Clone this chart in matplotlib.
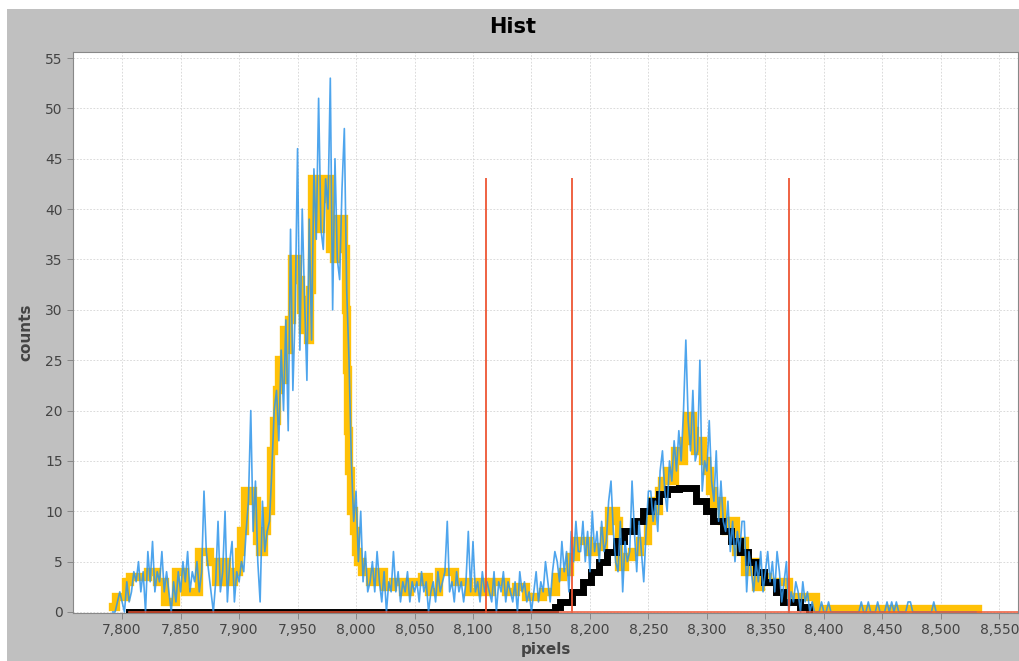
import matplotlib
matplotlib.use("Agg")
import matplotlib.pyplot as plt
from matplotlib.ticker import FuncFormatter, MultipleLocator
from matplotlib.patches import Rectangle
import numpy as np

# raw histogram, one value every 2 pixels starting at 7792
hist_start = 7792
hist_step = 2
hist_counts = [
    0, 0, 1, 2, 1, 0, 3, 1, 2, 4,          # 7792-7810
    3, 5, 2, 4, 0, 6, 3, 7, 2, 4,          # 7812-7830
    3, 6, 2, 4, 2, 0, 3, 1, 4, 2,          # 7832-7850
    5, 3, 6, 2, 4, 3, 5, 2, 4, 12,         # 7852-7870
    6, 4, 2, 0, 3, 9, 2, 4, 10, 1,         # 7872-7890
    5, 7, 1, 4, 3, 5, 4, 8, 11, 20,        # 7892-7910
    8, 13, 5, 1, 11, 6, 8, 9, 14, 20,      # 7912-7930
    22, 17, 26, 20, 29, 18, 38, 22, 30, 46,  # 7932-7950
    26, 40, 31, 23, 39, 27, 44, 37, 51, 38,  # 7952-7970
    36, 43, 40, 53, 30, 45, 35, 33, 42, 48,  # 7972-7990
    32, 25, 15, 9, 12, 5, 10, 3, 6, 2,     # 7992-8010
    3, 5, 2, 6, 3, 1, 4, 0, 3, 2,          # 8012-8030
    6, 2, 4, 1, 3, 2, 4, 1, 3, 2,          # 8032-8050
    3, 1, 4, 2, 3, 0, 2, 3, 1, 4,          # 8052-8070
    2, 3, 4, 9, 2, 3, 1, 4, 2, 3,          # 8072-8090
    1, 3, 8, 2, 7, 2, 3, 1, 4, 2,          # 8092-8110
    3, 2, 1, 4, 0, 3, 2, 4, 1, 3,          # 8112-8130
    2, 1, 3, 0, 4, 2, 3, 1, 2, 0,          # 8132-8150
    2, 4, 1, 3, 2, 5, 3, 1, 4, 6,          # 8152-8170
    5, 3, 7, 4, 6, 2, 8, 5, 9, 6,          # 8172-8190
    6, 9, 5, 8, 4, 10, 6, 8, 5, 9,         # 8192-8210
    6, 7, 11, 13, 8, 5, 4, 9, 2, 7,        # 8212-8230
    5, 6, 13, 8, 4, 9, 6, 3, 8, 12,        # 8232-8250
    12, 9, 11, 8, 14, 16, 12, 10, 15, 13,  # 8252-8270
    17, 14, 18, 15, 20, 27, 19, 16, 22, 15,  # 8272-8290
    16, 25, 12, 15, 14, 19, 13, 11, 16, 9,   # 8292-8310
    13, 9, 8, 11, 6, 9, 5, 8, 6, 9,        # 8312-8330
    9, 2, 6, 4, 2, 5, 3, 6, 2, 4,          # 8332-8350
    6, 3, 5, 2, 6, 4, 1, 3, 5, 0,          # 8352-8370
    2, 1, 3, 2, 0, 3, 1, 2, 0, 1,          # 8372-8390
    0, 0, 0, 1, 0, 0, 1, 0, 0, 0,          # 8392-8410
    0, 0, 0, 0, 0, 0, 0, 0, 0, 0,          # 8412-8430
    1, 0, 0, 1, 0, 0, 0, 1, 0, 0,          # 8432-8450
    0, 1, 0, 1, 0, 1, 0, 0, 0, 0,          # 8452-8470
    1, 1, 0, 0, 0, 0, 0, 0, 0, 0,          # 8472-8490
    0, 1, 0, 0, 0, 0, 0, 0, 0, 0,          # 8492-8510
    0, 0, 0, 0, 0, 0, 0, 0, 0, 0,          # 8512-8530
]

# smoothed histogram (step starts and levels)
smooth_x = [7792, 7795, 7803, 7807, 7822, 7830, 7837, 7846, 7854, 7866,
            7875, 7880, 7885, 7890, 7896, 7900, 7902, 7905, 7912, 7915,
            7918, 7921, 7924, 7927, 7930, 7932, 7934, 7936, 7938, 7941,
            7943, 7945, 7950, 7953, 7955, 7957, 7959, 7961, 7962, 7966,
            7968, 7970, 7972, 7978, 7981, 7983, 7985, 7990, 7991, 7992,
            7993, 7994, 7996, 7998, 8000, 8002, 8005, 8012, 8018, 8024,
            8032, 8040, 8046, 8056, 8062, 8071, 8085, 8097, 8104, 8110,
            8116, 8128, 8137, 8145, 8160, 8171, 8177, 8183, 8188, 8199,
            8205, 8212, 8216, 8222, 8225, 8230, 8236, 8243, 8250, 8253,
            8256, 8259, 8262, 8266, 8270, 8273, 8276, 8280, 8283, 8288,
            8290, 8294, 8297, 8300, 8303, 8306, 8310, 8313, 8316, 8320,
            8325, 8329, 8333, 8338, 8342, 8346, 8352, 8370, 8393, 8532]
smooth_y = [0.5, 1.5, 3, 3.5, 4, 3, 1, 4, 2, 6,
            5, 3, 5, 3, 4, 6, 8, 12, 11, 7,
            6, 8, 10, 16, 19, 22, 25, 23, 28, 26,
            29, 35, 33, 30, 28, 31, 27, 32, 43, 40,
            38, 41, 43, 36, 35, 38, 39, 36, 30, 24,
            18, 14, 10, 8, 6, 5, 4, 3, 4, 2.5,
            3, 2, 3, 3.5, 2, 4, 3, 2, 3, 2,
            3, 2, 2.5, 1.5, 2, 3.5, 4, 5.5, 7, 6,
            6.5, 8, 10, 9, 4.5, 5.5, 6, 7, 9, 11,
            10, 12, 13, 14, 13, 16, 15, 17, 19.5, 18,
            16, 17, 15, 14, 12, 10.5, 11, 9, 8, 9,
            6, 7, 4, 5, 2.5, 3.5, 3, 1.5, 0.3, 0.3]

# fitted peak (step starts and levels)
fit_x = [7806, 8170, 8174, 8185, 8194, 8201, 8208, 8215, 8222, 8229,
         8238, 8245, 8252, 8259, 8266, 8276, 8291, 8299, 8305, 8314,
         8321, 8328, 8335, 8342, 8349, 8359, 8365, 8380, 8387]
fit_y = [0, 0.5, 1, 2, 3, 4, 5, 6, 7, 8,
         9, 10, 11, 11.7, 12.2, 12.3, 11, 10, 9, 8,
         7, 6, 5, 4, 3, 2, 1, 0.5, 0]

# markers
marker_pos = [8111, 8185, 8370]
marker_height = 43
marker_range = [7806, 8566]

hist_x = hist_start + hist_step * np.arange(len(hist_counts))

W, H = 1019, 661
fig = plt.figure(figsize=(W / 100, H / 100), dpi=100, facecolor="#c0c0c0")
# white strips at top and left like the screenshot
fig.patches.append(Rectangle((0, 1 - 9 / H), 1, 9 / H, transform=fig.transFigure,
                             facecolor="white", edgecolor="none", zorder=0))
fig.patches.append(Rectangle((0, 0), 7 / W, 1, transform=fig.transFigure,
                             facecolor="white", edgecolor="none", zorder=0))

ax = fig.add_axes([73 / W, (H - 613) / H, (1018 - 73) / W, (613 - 52) / H])
ax.set_facecolor("white")

ax.plot(smooth_x, smooth_y, drawstyle="steps-post", color="#ffc107", lw=6,
        solid_joinstyle="miter", zorder=2)
ax.plot(fit_x, fit_y, drawstyle="steps-post", color="black", lw=5,
        solid_joinstyle="miter", zorder=3)
ax.plot(hist_x, hist_counts, color="#2f95ea", lw=1.2, alpha=0.85, zorder=4)

# red marker series, drawn along zero with spikes
rx = [marker_range[0]]
ry = [0]
for p in marker_pos:
    rx += [p, p, p]
    ry += [0, marker_height, 0]
rx.append(marker_range[1])
ry.append(0)
ax.plot(rx, ry, color="#ee5533", lw=1.2, alpha=0.9, zorder=5)

ax.set_xlim(7758, 8566)
ax.set_ylim(-0.1, 55.6)
ax.xaxis.set_major_locator(MultipleLocator(50))
ax.yaxis.set_major_locator(MultipleLocator(5))
ax.xaxis.set_major_formatter(FuncFormatter(lambda v, p: f"{int(round(v)):,}"))
ax.grid(True, color="#d4d4d4", lw=0.6, linestyle=(0, (2, 2)))
ax.set_axisbelow(True)
ax.tick_params(direction="out", length=4, width=0.7, color="#888888",
               labelcolor="#444444", labelsize=10)
for s in ax.spines.values():
    s.set_color("#888888")
    s.set_linewidth(0.8)

ax.set_xlabel("pixels", fontsize=11, fontweight="bold", color="#444444", labelpad=3)
ax.set_ylabel("counts", fontsize=11, fontweight="bold", color="#444444", labelpad=8)
fig.text(0.5 + 7 / W / 2, 1 - 27 / H, "Hist", ha="center", va="center",
         fontsize=15, fontweight="bold", color="black")

fig.savefig("out.png", dpi=100, facecolor=fig.get_facecolor())
